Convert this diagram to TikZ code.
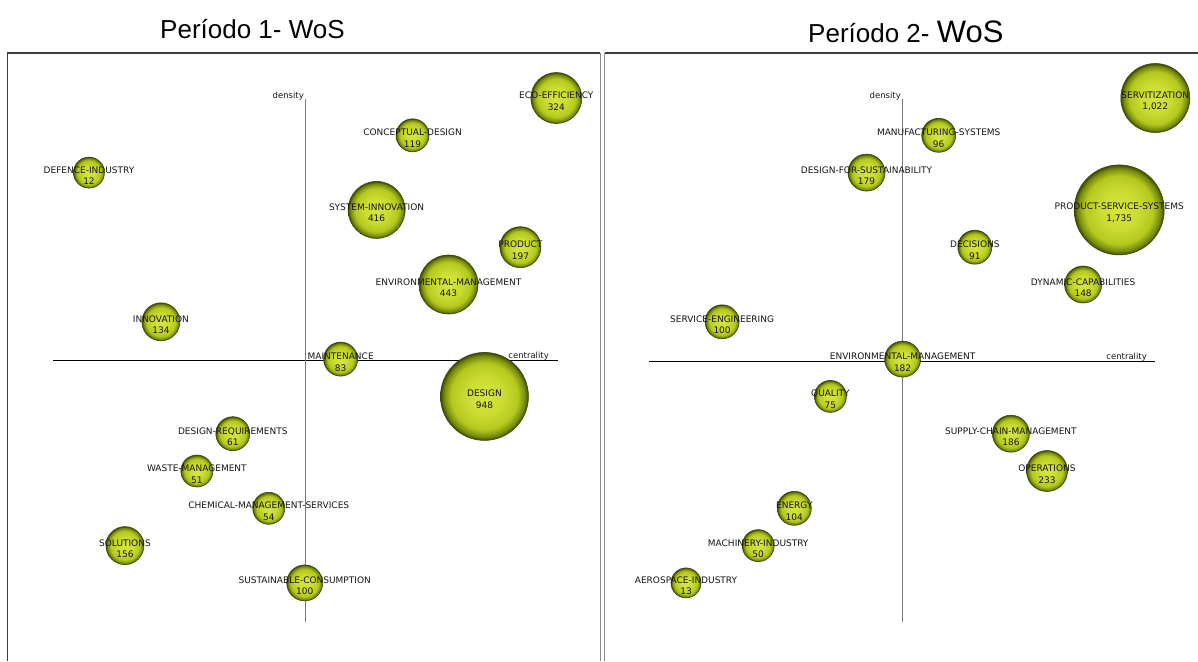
\documentclass[tikz,border=0pt]{standalone}
\usepackage{fontspec}
\setmainfont{Liberation Sans}
\newfontfamily\lblfont{DejaVu Sans}

\definecolor{bubA}{RGB}{214,230,60}
\definecolor{bubB}{RGB}{180,200,30}
\definecolor{bubC}{RGB}{118,138,14}
\definecolor{bubD}{RGB}{62,72,8}
\definecolor{txt}{RGB}{22,22,22}
\definecolor{framegray}{RGB}{60,60,60}
\definecolor{sepgray}{RGB}{140,140,140}
\definecolor{axisgray}{RGB}{120,120,120}

\pgfdeclareradialshading{bubbleshade}{\pgfpoint{0bp}{0bp}}{%
  color(0bp)=(bubA); color(11bp)=(bubA!65!bubB); color(19bp)=(bubB);
  color(23bp)=(bubC); color(25bp)=(bubD); color(50bp)=(bubD)}

\tikzset{
  bubble/.style={circle, draw=bubD, line width=0.6pt, shading=bubbleshade,
                 minimum size=#1, inner sep=0pt},
  tag/.style={font=\lblfont\fontsize{9}{11.5}\selectfont, text=txt,
              align=center, inner sep=0pt, yshift=-3pt},
  axislbl/.style={font=\lblfont\fontsize{8.5}{10}\selectfont, text=txt, inner sep=0pt},
  haxis/.style={draw=black, line width=0.9pt},
  vaxis/.style={draw=axisgray, line width=1pt},
  frame/.style={draw=framegray, line width=1.6pt},
  sep/.style={draw=sepgray, line width=1.4pt},
  title/.style={font=\fontsize{26}{30}\selectfont, text=black, inner sep=0pt}
}

% one bubble on the rank grid of the left or right map
% #1 name, #2 column, #3 row, #4 radius, #5 keyword, #6 count
\newcommand\leftbub[6]{%
  \node[bubble={2*#4pt}] (#1) at ({89+35.95*#2},{98+37.3*#3}) {};
  \node[tag] (#1-t) at (#1) {#5\\#6};}
\newcommand\rightbub[6]{%
  \node[bubble={2*#4pt}] (#1) at ({686+36.1*#2},{98+37.3*#3}) {};
  \node[tag] (#1-t) at (#1) {#5\\#6};}

\begin{document}
\begin{tikzpicture}[x=1pt,y=-1pt]
\useasboundingbox[fill=white] (0,0) rectangle (1198,661);

% titles
\node[title, anchor=base west] (t1) at (160,39) {Período 1- WoS};
\node[title, anchor=base west] (t2) at (808,42) {Período 2- {\fontsize{31}{34}\selectfont WoS}};

% panel frames
\coordinate (fl0) at (7.5,661);
\coordinate (fl1) at (7.5,53);
\coordinate (fl2) at (600,53);
\coordinate (fr1) at (605,53);
\coordinate (fr2) at (1198,53);
\draw[frame] (fl0) -- (fl1) -- (fl2);
\draw[frame] (fr1) -- (fr2);
\coordinate (s1a) at (600.5,53);  \coordinate (s1b) at (600.5,661);
\coordinate (s2a) at (604.5,53);  \coordinate (s2b) at (604.5,661);
\draw[sep] (s1a) -- (s1b);
\draw[sep] (s2a) -- (s2b);

% axes, left map
\coordinate (lh0) at (53,360.5);  \coordinate (lh1) at (558,360.5);
\coordinate (lv0) at (305.5,99);  \coordinate (lv1) at (305.5,622);
\draw[haxis] (lh0) -- (lh1);
\draw[vaxis] (lv0) -- (lv1);
\node[axislbl, anchor=base east] (ld) at (304,98.5) {density};
\node[axislbl, anchor=base east] (lc) at (549,358.5) {centrality};

% axes, right map
\coordinate (rh0) at (649,361);  \coordinate (rh1) at (1155,361);
\coordinate (rv0) at (902.5,99); \coordinate (rv1) at (902.5,622);
\draw[haxis] (rh0) -- (rh1);
\draw[vaxis] (rv0) -- (rv1);
\node[axislbl, anchor=base east] (rd) at (901,98.5) {density};
\node[axislbl, anchor=base east] (rc) at (1147,359) {centrality};

% left map bubbles
\leftbub{eco}{13}{0}{25.5}{ECO-EFFICIENCY}{324}
\leftbub{concd}{9}{1}{16.5}{CONCEPTUAL-DESIGN}{119}
\leftbub{defind}{0}{2}{15.5}{DEFENCE-INDUSTRY}{12}
\leftbub{sysinn}{8}{3}{28.5}{SYSTEM-INNOVATION}{416}
\leftbub{prod}{12}{4}{20.5}{PRODUCT}{197}
\leftbub{envl}{10}{5}{29.5}{ENVIRONMENTAL-MANAGEMENT}{443}
\leftbub{innov}{2}{6}{19}{INNOVATION}{134}
\leftbub{maint}{7}{7}{17}{MAINTENANCE}{83}
\leftbub{design}{11}{8}{44}{DESIGN}{948}
\leftbub{desreq}{4}{9}{17}{DESIGN-REQUIREMENTS}{61}
\leftbub{waste}{3}{10}{16}{WASTE-MANAGEMENT}{51}
\leftbub{chem}{5}{11}{16}{CHEMICAL-MANAGEMENT-SERVICES}{54}
\leftbub{sol}{1}{12}{19}{SOLUTIONS}{156}
\leftbub{suscons}{6}{13}{18}{SUSTAINABLE-CONSUMPTION}{100}

% right map bubbles
\rightbub{serv}{13}{0}{34.5}{SERVITIZATION}{1,022}
\rightbub{manuf}{7}{1}{17}{MANUFACTURING-SYSTEMS}{96}
\rightbub{dfs}{5}{2}{18.5}{DESIGN-FOR-SUSTAINABILITY}{179}
\rightbub{pss}{12}{3}{45}{PRODUCT-SERVICE-SYSTEMS}{1,735}
\rightbub{decis}{8}{4}{17}{DECISIONS}{91}
\rightbub{dyncap}{11}{5}{18.5}{DYNAMIC-CAPABILITIES}{148}
\rightbub{serveng}{1}{6}{17}{SERVICE-ENGINEERING}{100}
\rightbub{envr}{6}{7}{18}{ENVIRONMENTAL-MANAGEMENT}{182}
\rightbub{qual}{4}{8}{16}{QUALITY}{75}
\rightbub{scm}{9}{9}{18.5}{SUPPLY-CHAIN-MANAGEMENT}{186}
\rightbub{oper}{10}{10}{20.5}{OPERATIONS}{233}
\rightbub{energy}{3}{11}{17}{ENERGY}{104}
\rightbub{mach}{2}{12}{16}{MACHINERY-INDUSTRY}{50}
\rightbub{aero}{0}{13}{15}{AEROSPACE-INDUSTRY}{13}
\end{tikzpicture}
\end{document}
